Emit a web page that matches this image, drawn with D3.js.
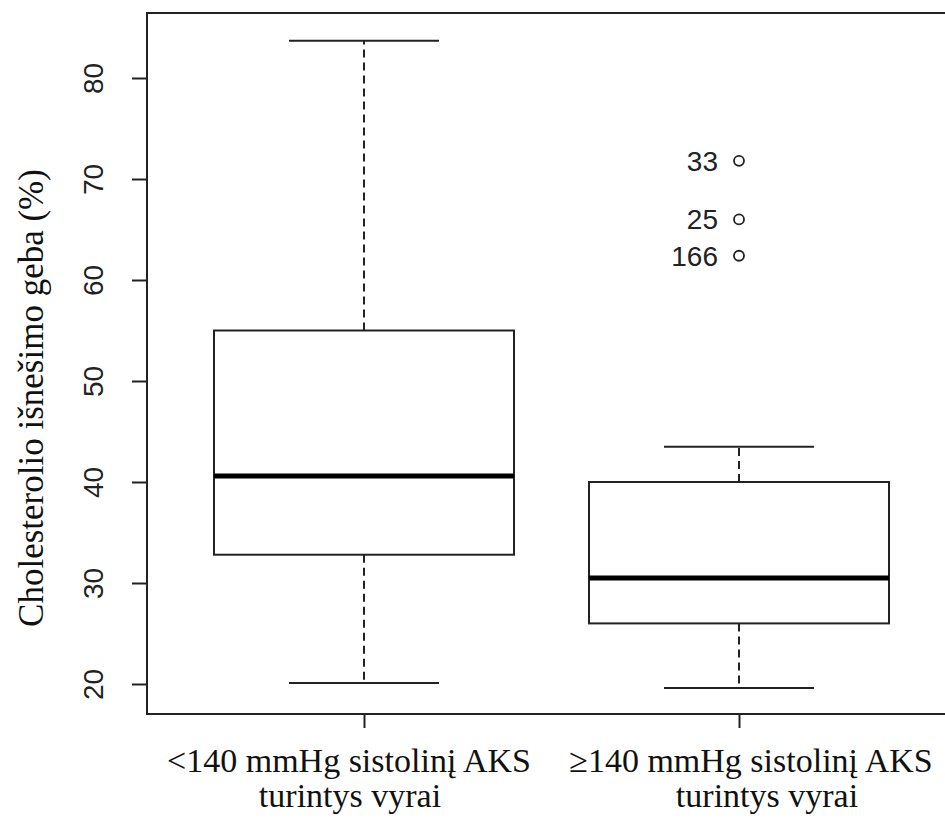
<!DOCTYPE html>
<html>
<head>
<meta charset="utf-8">
<script src="https://cdn.jsdelivr.net/npm/d3@7"></script>
<style>
  body { margin: 0; background: #fff; }
  svg { display: block; }
</style>
</head>
<body>
<script>
// chart size
var width = 945, height = 818;

// data
var groups = ["<140 mmHg sistolinį AKS|turintys vyrai", "≥140 mmHg sistolinį AKS|turintys vyrai"];
var lowWhisker = [20.1, 19.6];
var q1 = [32.8, 26.0];
var median = [40.6, 30.5];
var q3 = [55.0, 40.0];
var highWhisker = [83.7, 43.5];
var outlierGroup = [1, 1, 1];
var outlierValue = [71.8, 66.0, 62.4];
var outlierLabel = ["33", "25", "166"];
var yTicks = [20, 30, 40, 50, 60, 70, 80];

var plot = {left: 147, top: 13, right: 1130, bottom: 714};

var svg = d3.select('body').append('svg').attr('width', width).attr('height', height);

var y = d3.scaleLinear().domain([20, 80]).range([684, 78]);
var x = d3.scaleLinear().domain([0, 1]).range([364, 739]);

var boxHalf = 150, capHalf = 75;
var sans = 'Liberation Sans, Arial, sans-serif';
var serif = 'Liberation Serif, Times New Roman, serif';

// frame
svg.append('rect')
    .attr('x', plot.left).attr('y', plot.top)
    .attr('width', plot.right - plot.left).attr('height', plot.bottom - plot.top)
    .attr('fill', 'none').attr('stroke', '#222').attr('stroke-width', 2);

// y axis
var yAxis = svg.append('g')
    .attr('transform', 'translate(' + plot.left + ',0)')
    .call(d3.axisLeft(y).tickValues(yTicks).tickSize(15).tickFormat(d3.format('d')));
yAxis.select('.domain').remove();
yAxis.selectAll('line').attr('stroke', '#222').attr('stroke-width', 2);
yAxis.selectAll('text')
    .attr('font-family', sans)
    .attr('font-size', 28)
    .attr('fill', '#222')
    .attr('text-anchor', 'middle')
    .attr('dy', null)
    .attr('x', 0).attr('y', -44)
    .attr('transform', 'rotate(-90)');

// x axis ticks
var xAxis = svg.append('g')
    .attr('transform', 'translate(0,' + plot.bottom + ')')
    .call(d3.axisBottom(x).tickValues([0, 1]).tickSize(14).tickFormat(''));
xAxis.select('.domain').remove();
xAxis.selectAll('line').attr('stroke', '#222').attr('stroke-width', 2);

// category labels, two lines each (the picture has them slightly off the ticks)
var labelShift = [[-15, -14], [12, 28]];
groups.forEach(function(g, i) {
    g.split('|').forEach(function(l, k) {
        svg.append('text')
            .attr('x', x(i) + labelShift[i][k]).attr('y', 772 + k * 35)
            .attr('text-anchor', 'middle')
            .attr('font-family', serif)
            .attr('font-size', 34)
            .attr('fill', '#111')
            .text(l);
    });
});

// y axis title
svg.append('text')
    .attr('transform', 'translate(43,398) rotate(-90)')
    .attr('text-anchor', 'middle')
    .attr('font-family', serif)
    .attr('font-size', 35)
    .attr('fill', '#111')
    .text('Cholesterolio išnešimo geba (%)');

// boxes
groups.forEach(function(g, i) {
    var cx = x(i);
    var b = svg.append('g');
    // whiskers
    b.append('line').attr('x1', cx).attr('x2', cx).attr('y1', y(q3[i])).attr('y2', y(highWhisker[i]))
        .attr('stroke', '#222').attr('stroke-width', 2).attr('stroke-dasharray', '8,5');
    b.append('line').attr('x1', cx).attr('x2', cx).attr('y1', y(q1[i])).attr('y2', y(lowWhisker[i]))
        .attr('stroke', '#222').attr('stroke-width', 2).attr('stroke-dasharray', '8,5');
    // caps
    [highWhisker[i], lowWhisker[i]].forEach(function(v) {
        b.append('line').attr('x1', cx - capHalf).attr('x2', cx + capHalf).attr('y1', y(v)).attr('y2', y(v))
            .attr('stroke', '#222').attr('stroke-width', 2);
    });
    // box
    b.append('rect')
        .attr('x', cx - boxHalf).attr('y', y(q3[i]))
        .attr('width', boxHalf * 2).attr('height', y(q1[i]) - y(q3[i]))
        .attr('fill', '#fff').attr('stroke', '#222').attr('stroke-width', 2);
    // median
    b.append('line').attr('x1', cx - boxHalf).attr('x2', cx + boxHalf).attr('y1', y(median[i])).attr('y2', y(median[i]))
        .attr('stroke', '#000').attr('stroke-width', 5);
});

// outliers with labels
outlierValue.forEach(function(v, k) {
    var cx = x(outlierGroup[k]);
    svg.append('circle').attr('cx', cx).attr('cy', y(v)).attr('r', 5)
        .attr('fill', 'none').attr('stroke', '#222').attr('stroke-width', 1.8);
    svg.append('text')
        .attr('x', cx - 21).attr('y', y(v) + 10)
        .attr('text-anchor', 'end')
        .attr('font-family', sans)
        .attr('font-size', 28)
        .attr('fill', '#222')
        .text(outlierLabel[k]);
});
</script>
</body>
</html>
